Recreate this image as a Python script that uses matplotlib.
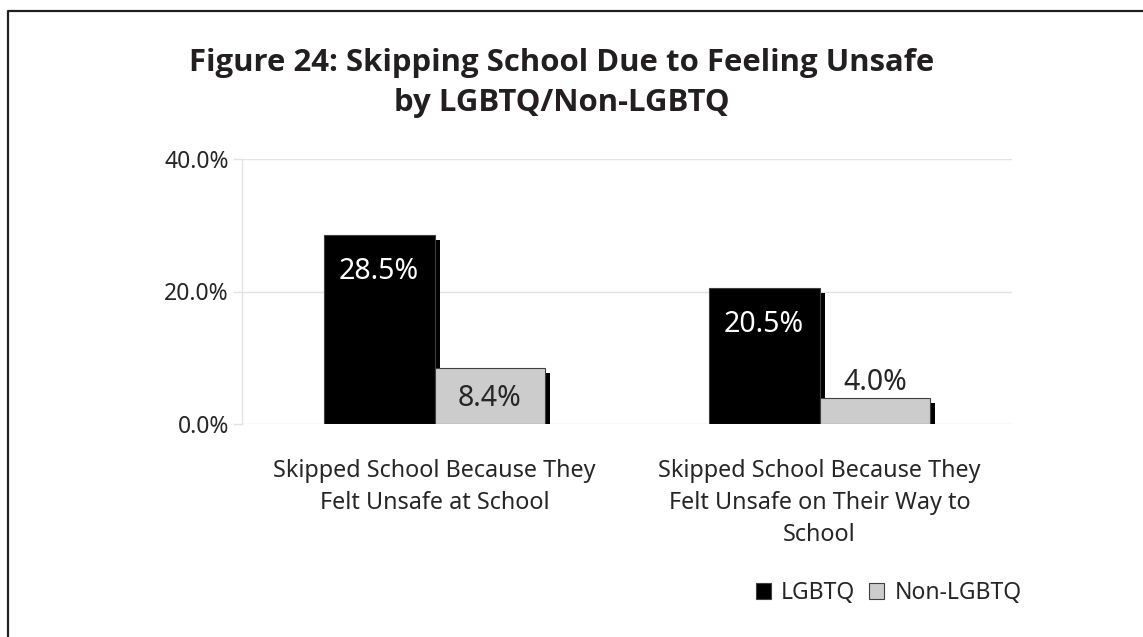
import matplotlib.pyplot as plt
import matplotlib.patheffects as pe
from matplotlib.lines import Line2D
from matplotlib.patches import Patch
import numpy as np

plt.rcParams['font.family'] = ['Noto Sans', 'DejaVu Sans']

# chart data
categories = ['Skipped School Because They\nFelt Unsafe at School',
              'Skipped School Because They\nFelt Unsafe on Their Way to\nSchool']
series_names = ['LGBTQ', 'Non-LGBTQ']
lgbtq = [28.5, 20.5]
non_lgbtq = [8.4, 4.0]
y_ticks = [0, 20, 40]

text_col = '#262626'
grid_col = '#e3e3e3'

fig = plt.figure(figsize=(11.43, 6.37), dpi=100)
ax = fig.add_axes([242 / 1143, 1 - 424 / 637, 770 / 1143, 265 / 637])

x = np.arange(len(categories))
w = 0.288
shadow = [pe.SimplePatchShadow(offset=(3.6, -3.6), shadow_rgbFace='black', alpha=1), pe.Normal()]

b1 = ax.bar(x - w / 2, lgbtq, w, color='black', edgecolor='#404040', linewidth=0.8,
            path_effects=shadow, zorder=3)
b2 = ax.bar(x + w / 2, non_lgbtq, w, color='#cccccc', edgecolor='#404040', linewidth=0.8,
            path_effects=shadow, zorder=4)

# value labels
for rect, v in zip(b1, lgbtq):
    ax.annotate(f'{v:.1f}%', (rect.get_x() + rect.get_width() / 2, v), xytext=(0, -26),
                textcoords='offset points', ha='center', va='center', color='white', fontsize=20.5, zorder=6)
for rect, v in zip(b2, non_lgbtq):
    if v > 6:
        off = -22
    else:
        off = 11
    ax.annotate(f'{v:.1f}%', (rect.get_x() + rect.get_width() / 2, v), xytext=(0, off),
                textcoords='offset points', ha='center', va='center', color=text_col, fontsize=20.5, zorder=6)

ax.set_xlim(-0.5, len(categories) - 0.5)
ax.set_ylim(0, 40)
ax.set_yticks(y_ticks)
ax.set_yticklabels([f'{t:.1f}%' for t in y_ticks], fontsize=16.5, color=text_col)
ax.set_xticks(x)
ax.set_xticklabels(categories, fontsize=16.8, color=text_col, linespacing=1.45)
ax.tick_params(axis='x', length=0, pad=25)
ax.tick_params(axis='y', length=6.5, width=1, color=grid_col, pad=3)
ax.yaxis.grid(True, color=grid_col, linewidth=1, zorder=0)
ax.set_axisbelow(True)
for s in ['top', 'right', 'bottom']:
    ax.spines[s].set_visible(False)
ax.spines['left'].set_color(grid_col)
ax.spines['left'].set_linewidth(1)

# title
fig.text(562 / 1143, 1 - 83 / 637, 'Figure 24: Skipping School Due to Feeling Unsafe\nby LGBTQ/Non-LGBTQ',
         ha='center', va='center', fontsize=22.4, fontweight='bold', color='#231f20', linespacing=1.4,
         family=['Open Sans', 'DejaVu Sans'])

# legend
handles = [Patch(facecolor='black', edgecolor='#404040', linewidth=0.8),
           Patch(facecolor='#cccccc', edgecolor='#404040', linewidth=0.8)]
fig.legend(handles, series_names, loc='center right', bbox_to_anchor=(1033 / 1143, 1 - 593 / 637),
           ncol=2, frameon=False, fontsize=16.5, handlelength=0.65, handleheight=0.65,
           handletextpad=0.45, columnspacing=0.6, labelcolor=text_col, borderpad=0)

# outer frame (left and top only, as in the reference crop)
fx = 8 / 1143
fy = 1 - 11 / 637
fig.add_artist(Line2D([fx, fx, 1.01], [-0.01, fy, fy], transform=fig.transFigure,
                      color='#231f20', linewidth=1.6))

fig.savefig('out.png', dpi=100, facecolor='white')
